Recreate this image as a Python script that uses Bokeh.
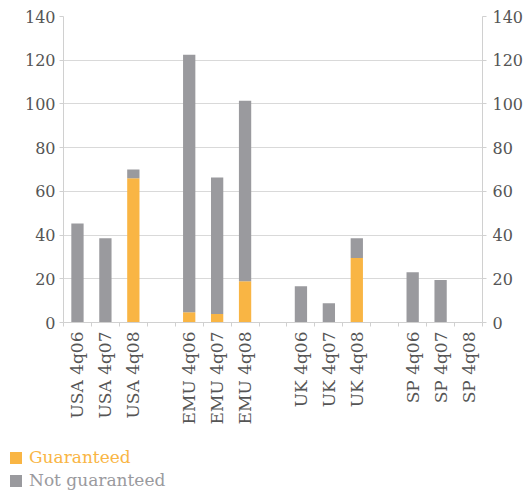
import math
from bokeh.plotting import figure
from bokeh.layouts import column
from bokeh.models import (Range1d, FixedTicker, LinearAxis, Legend, LegendItem,
                          ColumnDataSource)
from bokeh.embed import file_html
from bokeh.resources import INLINE

# ---- data ----
categories = ["USA 4q06", "USA 4q07", "USA 4q08",
              "EMU 4q06", "EMU 4q07", "EMU 4q08",
              "UK 4q06", "UK 4q07", "UK 4q08",
              "SP 4q06", "SP 4q07", "SP 4q08"]
guaranteed = [0, 0, 66, 4.7, 3.9, 18.9, 0, 0, 29.5, 0, 0, 0]
not_guaranteed = [45.3, 38.5, 4, 117.8, 62.4, 82.6, 16.6, 8.8, 9, 23, 19.5, 0]
y_ticks = [0, 20, 40, 60, 80, 100, 120, 140]
series_names = ["Guaranteed", "Not guaranteed"]

ORANGE = "#F9B544"
GREY = "#9A9A9E"
FONT = "DejaVu Serif"
LABEL = "#555555"
AXIS = "#d0d0d0"

# 3 bars per group, one empty slot between groups
centers = [(i // 3) * 4 + (i % 3) + 0.5 for i in range(len(categories))]
n_slots = (len(categories) // 3) * 4 - 1

src = ColumnDataSource(dict(x=centers, g=guaranteed, n=not_guaranteed,
                            top=[a + b for a, b in zip(guaranteed, not_guaranteed)]))

p = figure(width=526, height=440, output_backend="svg", toolbar_location=None,
           x_range=Range1d(0, n_slots), y_range=Range1d(0, 140),
           min_border_left=63, min_border_right=42, min_border_top=16,
           min_border_bottom=118, y_axis_location=None, x_axis_location=None)
p.outline_line_color = None
p.background_fill_color = "white"
p.border_fill_color = "white"

p.vbar(x="x", width=0.44, bottom=0, top="g", source=src,
       fill_color=ORANGE, line_color=None)
p.vbar(x="x", width=0.44, bottom="g", top="top", source=src,
       fill_color=GREY, line_color=None)

# axes
yticker = FixedTicker(ticks=y_ticks)
for side in ("left", "right"):
    ax = LinearAxis(ticker=yticker)
    ax.axis_line_color = AXIS
    ax.major_tick_line_color = AXIS
    ax.major_tick_out = 4
    ax.major_tick_in = 0
    ax.minor_tick_line_color = None
    ax.major_label_text_font = FONT
    ax.major_label_text_font_size = "16px"
    ax.major_label_text_color = LABEL
    ax.major_label_standoff = 4 if side == "left" else 6
    p.add_layout(ax, side)

xticker = FixedTicker(ticks=centers, minor_ticks=list(range(n_slots + 1)))
xa = LinearAxis(ticker=xticker)
xa.major_label_overrides = {c: lab for c, lab in zip(centers, categories)}
xa.major_label_orientation = math.pi / 2
xa.major_label_text_font = FONT
xa.major_label_text_font_size = "17px"
xa.major_label_text_color = LABEL
xa.major_label_standoff = 5
xa.major_tick_line_color = None
xa.major_tick_out = 0
xa.major_tick_in = 0
xa.minor_tick_line_color = AXIS
xa.minor_tick_out = 4
xa.minor_tick_in = 0
xa.axis_line_color = AXIS
p.add_layout(xa, "below")

p.xgrid.visible = False
p.ygrid.ticker = yticker
p.ygrid.grid_line_color = "#d9d9d9"

# ---- legend (separate strip below the chart) ----
lp = figure(width=526, height=55, output_backend="svg", toolbar_location=None,
            x_range=Range1d(0, 1), y_range=Range1d(0, 1),
            min_border=0, x_axis_location=None, y_axis_location=None)
lp.frame_align = False
lp.outline_line_color = None
lp.grid.visible = False
lp.background_fill_color = "white"
lp.border_fill_color = "white"

for name, color, vy in zip(series_names, (ORANGE, GREY), (28, 5)):
    # zero-height legend proxy
    r = lp.vbar(x=[0.5], bottom=[0], top=[0], width=0.01,
                fill_color=color, line_color=None)
    lg = Legend(items=[LegendItem(label=name, renderers=[r])],
                location=(8, vy), margin=0, padding=0, spacing=0,
                glyph_width=15, glyph_height=15, label_height=15,
                label_standoff=6, border_line_color=None,
                background_fill_alpha=0,
                label_text_font=FONT, label_text_font_size="17px",
                label_text_color=color)
    lp.add_layout(lg)

layout = column(p, lp, spacing=0)
open("out.html", "w").write(file_html(layout, INLINE))
